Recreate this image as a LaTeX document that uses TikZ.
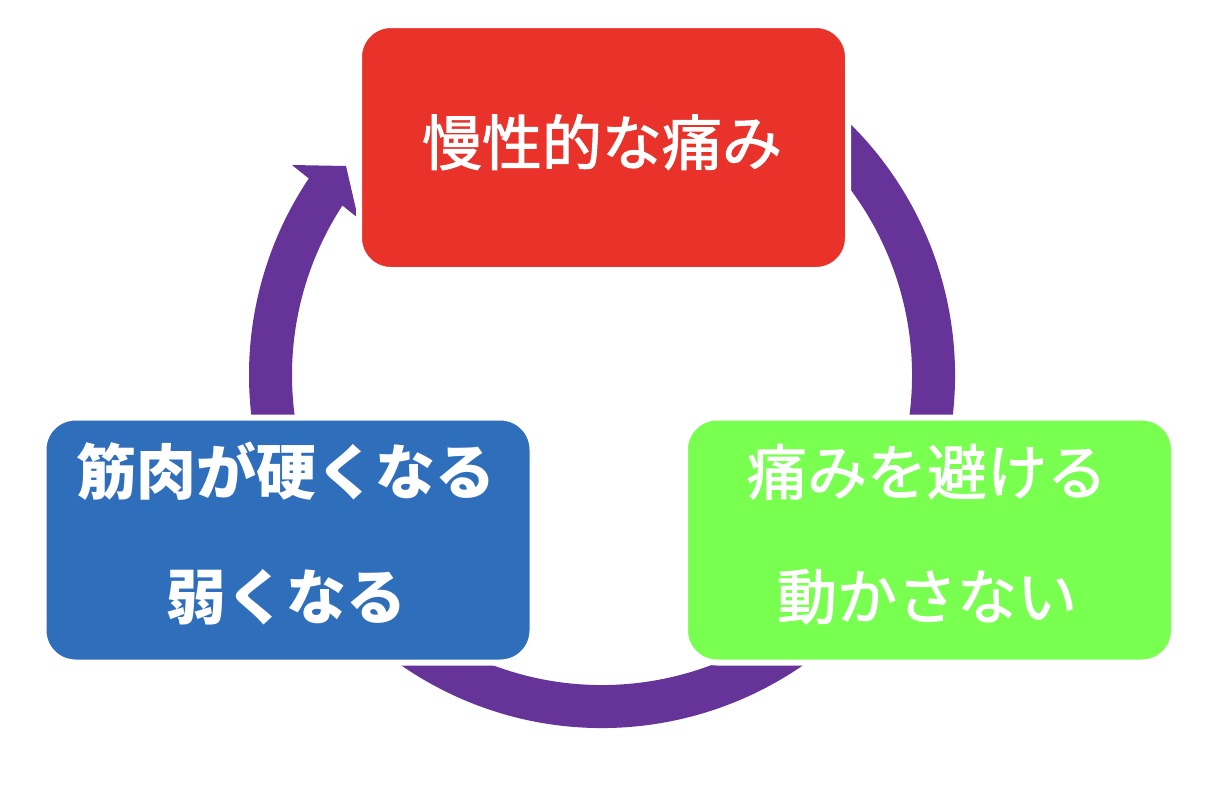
\documentclass[tikz,border=0pt]{standalone}
\usepackage{fontspec}
\newfontfamily\cjk{Noto Sans CJK JP}
\newfontfamily\cjkm[FakeBold=1.8]{Noto Sans CJK JP}
\definecolor{boxred}{HTML}{E8322A}
\definecolor{boxblue}{HTML}{2F6EBA}
\definecolor{boxgreen}{HTML}{79FF4F}
\definecolor{ringpurple}{HTML}{663399}
\tikzset{
  box/.style={rectangle, rounded corners=32, draw=white, line width=6,
    minimum width=489, minimum height=245, inner sep=0},
  label/.style={anchor=base, text=white, inner sep=0,
    font=\cjkm\fontsize{60}{60}\selectfont},
  boldlabel/.style={label, font=\cjk\bfseries\fontsize{60}{60}\selectfont},
  ring/.style={draw=ringpurple, line width=43},
}
\begin{document}
\begin{tikzpicture}[x=1pt,y=-1pt]
\useasboundingbox (0,0) rectangle (1216,788);
\fill[white] (0,0) rectangle (1216,788);
\coordinate (c) at (602,375);
% cycle ring
\draw[ring] ([shift={(-60:331.5)}]c) arc[start angle=-60, end angle=215, radius=331.5];
\coordinate (barbA) at (292,165);
\coordinate (tip) at (346,166);
\coordinate (barbB) at (358,218);
\fill[ringpurple] (barbA) -- (tip) -- (barbB) -- cycle;
% boxes
\node[box, fill=boxred] (pain) at (603.5,147.5) {};
\node[box, fill=boxblue] (muscle) at (288,540) {};
\node[box, fill=boxgreen] (avoid) at (929.5,540) {};
% texts
\node[label] (t1) at (602,165) {慢性的な痛み};
\node[boldlabel] (t2a) at (286,494.5) {筋肉が硬くなる};
\node[boldlabel] (t2b) at (286,619) {弱くなる};
\node[label] (t3a) at (927,494.5) {痛みを避ける};
\node[label] (t3b) at (927,619) {動かさない};
\end{tikzpicture}
\end{document}
